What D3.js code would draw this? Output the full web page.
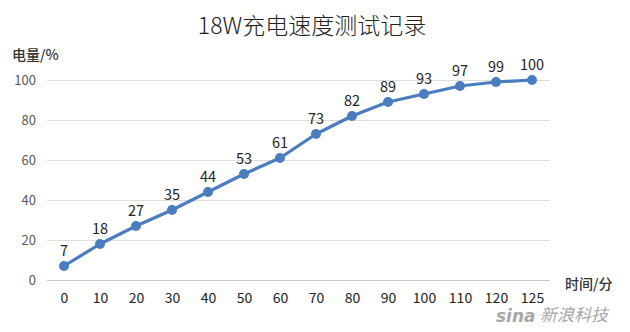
<!DOCTYPE html>
<html><head><meta charset="utf-8">
<script src="https://cdn.jsdelivr.net/npm/d3@7"></script>
<style>body{margin:0;background:#fff;} svg{display:block;}</style>
</head><body>
<svg id="c" width="630" height="332"></svg>
<script>
const categories = ["0","10","20","30","40","50","60","70","80","90","100","110","120","125"];
const charge = [7,18,27,35,44,53,61,73,82,89,93,97,99,100];
const yTicks = [0,20,40,60,80,100];
const title = "18W充电速度测试记录";
const yLabel = "电量/%";
const xLabel = "时间/分";

const svg = d3.select("#c");
const font = "'Noto Sans CJK SC','Noto Sans',sans-serif";
const x = d3.scalePoint().domain(categories).range([64, 532]);
const y = d3.scaleLinear().domain([0,100]).range([280, 80]);
const gx0 = 47, gx1 = 550;

svg.append("text").attr("x", 312).attr("y", 34).attr("text-anchor","middle")
  .attr("font-family", font).attr("font-size", 23).attr("font-weight", 300).attr("fill","#222").text(title);

const yAxis = svg.append("g").attr("transform", `translate(${gx0},0)`)
  .call(d3.axisLeft(y).tickValues(yTicks).tickSize(-(gx1-gx0)).tickPadding(11));
yAxis.select(".domain").remove();
yAxis.selectAll(".tick line").attr("stroke", d => d===0 ? "#c8c8c8" : "#dcdcdc").attr("stroke-width",1.2);
yAxis.selectAll(".tick text").attr("font-family", font).attr("font-size", 13).attr("fill","#595959");

const xAxis = svg.append("g").attr("transform", `translate(0,280)`)
  .call(d3.axisBottom(x).tickSize(0).tickPadding(13));
xAxis.select(".domain").remove();
xAxis.selectAll(".tick text").attr("font-family", font).attr("font-size", 14).attr("fill","#222");

svg.append("text").attr("x", 12).attr("y", 60).attr("font-family", font).attr("font-size", 14).attr("font-weight",500).attr("fill","#333").text(yLabel);
svg.append("text").attr("x", 565).attr("y", 289).attr("font-family", font).attr("font-size", 14).attr("font-weight",500).attr("fill","#333").text(xLabel);

const line = d3.line().x((d,i)=>x(categories[i])).y(d=>y(d));
svg.append("path").datum(charge).attr("d", line).attr("fill","none")
  .attr("stroke","#4a7dbf").attr("stroke-width",3.2).attr("stroke-linejoin","round");
svg.selectAll("circle.pt").data(charge).join("circle").attr("class","pt")
  .attr("cx",(d,i)=>x(categories[i])).attr("cy",d=>y(d)).attr("r",5).attr("fill","#4a7dbf");
svg.selectAll("text.lbl").data(charge).join("text").attr("class","lbl")
  .attr("x",(d,i)=>x(categories[i])).attr("y",d=>y(d)-10).attr("text-anchor","middle")
  .attr("font-family", font).attr("font-size", 14.5).attr("fill","#222").text(d=>d);

// watermark
const wm = svg.append("g").attr("opacity",0.75);
wm.append("text").attr("x",496).attr("y",322).attr("font-family","'DejaVu Sans',sans-serif").attr("font-style","italic")
  .attr("font-weight","bold").attr("font-size",17).attr("fill","#8a8a8a").text("sina");
wm.append("text").attr("x",540).attr("y",321).attr("font-family",font).attr("font-style","italic")
  .attr("font-size",17).attr("fill","#8a8a8a").text("新浪科技");
</script>
</body></html>
